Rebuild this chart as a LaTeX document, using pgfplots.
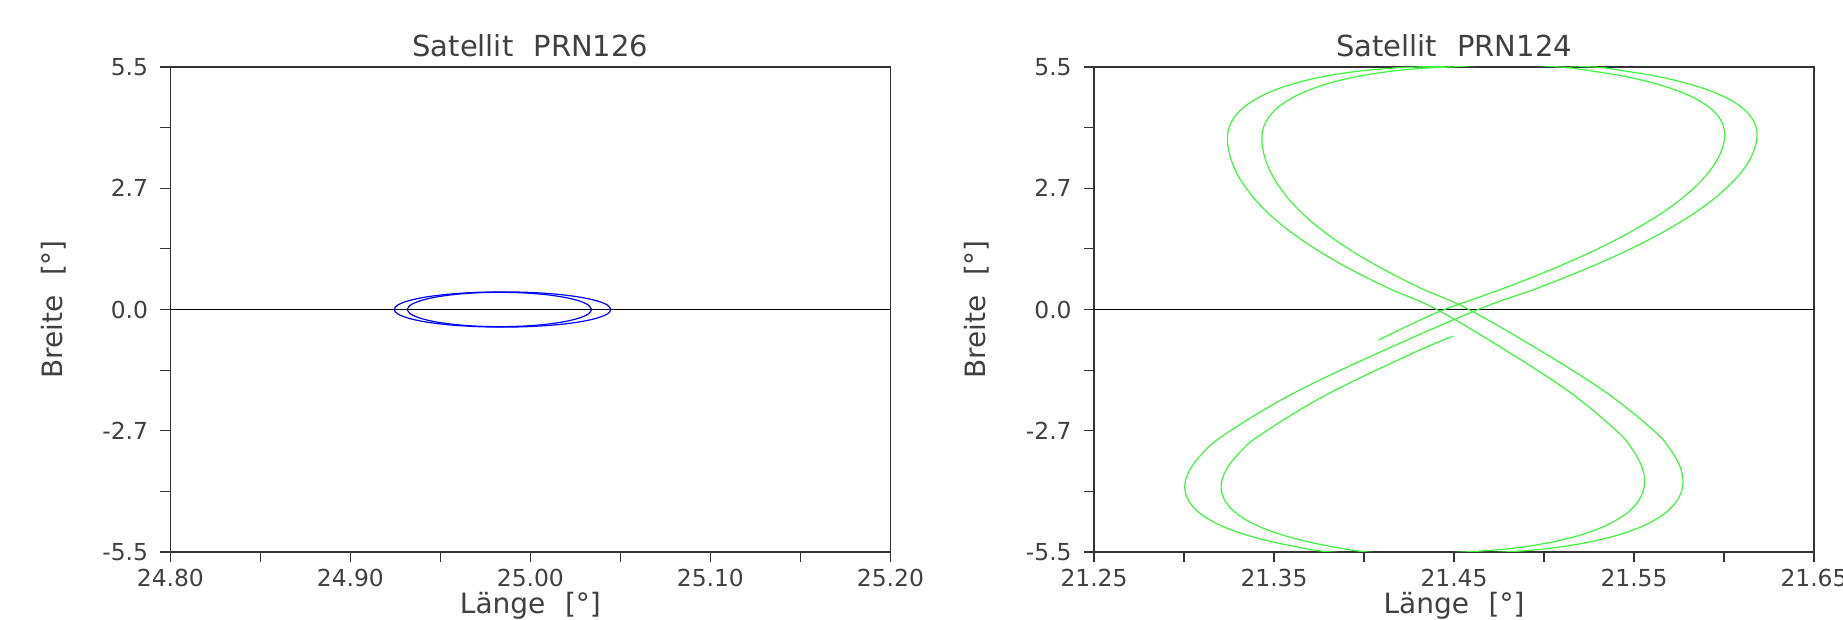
\documentclass[border=0pt]{standalone}
\usepackage{pgfplots}
\pgfplotsset{compat=1.18}
\usepackage{fontspec}
\setmainfont{DejaVu Sans}
\definecolor{txt}{gray}{0.25}
\definecolor{grn}{RGB}{60,245,60}
\definecolor{blu}{RGB}{0,0,255}
\pgfplotsset{
 satstyle/.style={
  scale only axis, width=360pt, height=242.5pt,
  anchor=south west,
  ymin=-5.5, ymax=5.5,
  ytick={-5.5,-2.75,0,2.75,5.5},
  yticklabels={-5.5,-2.7,0.0,2.7,5.5},
  minor ytick={-4.125,-1.375,1.375,4.125},
  tick align=outside, xtick pos=left, ytick pos=left,
  major tick length=5pt, minor tick length=5pt,
  every tick/.style={black!80, line width=0.6pt},
  axis line style={black!80, line width=0.8pt},
  ticklabel style={font=\fontsize{11.7}{13}\selectfont, text=txt},
  xticklabel style={anchor=base, yshift=-12.5pt},
  yticklabel style={anchor=east, inner sep=0pt, xshift=-6pt},
 }
}
\begin{document}
\begin{tikzpicture}
\useasboundingbox (0,0) rectangle (921.5pt,310pt);
\begin{axis}[satstyle, at={(85.2pt,34pt)},
  xmin=24.8, xmax=25.2,
  xtick={24.8,24.9,25.0,25.1,25.2},
  xticklabels={24.80,24.90,25.00,25.10,25.20},
  minor xtick={24.85,24.95,25.05,25.15}]
\addplot[black, line width=0.7pt] coordinates {(24.8,0) (25.2,0)};
\addplot[blu, line width=0.6pt, smooth] coordinates {
(25.0447,0) (25.0427,0.1035) (25.0366,0.2) (25.0271,0.2828) (25.0146,0.3464) (25.0001,0.3864) (24.9845,0.4) (24.9689,0.3864) (24.9544,0.3464) (24.9419,0.2828) (24.9324,0.2) (24.9264,0.1035) (24.9243,0) (24.9264,-0.1035) (24.9324,-0.2) (24.9419,-0.2828) (24.9544,-0.3464) (24.9689,-0.3864) (24.9845,-0.4) (25.0001,-0.3864) (25.0146,-0.3464) (25.0271,-0.2828) (25.0366,-0.2) (25.0427,-0.1035) (25.0447,0) (25.0427,0.1035)};
\addplot[blu, line width=0.6pt, smooth] coordinates {
(25.0339,0) (25.0322,0.1009) (25.0271,0.195) (25.0189,0.2758) (25.0084,0.3378) (24.9960,0.3767) (24.9828,0.39) (24.9696,0.3767) (24.9573,0.3378) (24.9467,0.2758) (24.9386,0.195) (24.9334,0.1009) (24.9317,0) (24.9334,-0.1009) (24.9386,-0.195) (24.9467,-0.2758) (24.9573,-0.3378) (24.9696,-0.3767) (24.9828,-0.39) (24.9960,-0.3767) (25.0084,-0.3378) (25.0189,-0.2758) (25.0271,-0.195) (25.0322,-0.1009) (25.0339,0) (25.0322,0.1009)};
\end{axis}
\begin{axis}[satstyle, at={(547pt,34pt)},
  xmin=21.25, xmax=21.65,
  xtick={21.25,21.35,21.45,21.55,21.65},
  xticklabels={21.25,21.35,21.45,21.55,21.65},
  minor xtick={21.30,21.40,21.50,21.60}]
\addplot[black, line width=0.7pt] coordinates {(21.25,0) (21.65,0)};
\addplot[grn, line width=0.6pt, smooth, tension=0.6] coordinates {
(21.4081,-0.694) (21.4258,-0.343) (21.4448,0) (21.4783,0.4905) (21.5081,0.9765) (21.5339,1.4558) (21.5551,1.9238) (21.5721,2.3771) (21.5848,2.8125) (21.5936,3.2265) (21.5987,3.6158) (21.6004,3.9774) (21.5980,4.3088) (21.5910,4.6080) (21.5796,4.8713) (21.5640,5.0979) (21.5448,5.2858) (21.5226,5.4332) (21.5087,5.5) (21.478,5.56)
(21.4483,5.5) (21.4383,5.4841) (21.4189,5.4213) (21.4007,5.3173) (21.3843,5.1730) (21.3702,4.9892) (21.3587,4.7673) (21.3502,4.5097) (21.3450,4.2168) (21.3433,3.8926) (21.3443,3.5386) (21.3476,3.1577) (21.3535,2.7525) (21.3621,2.3264) (21.3740,1.8827) (21.3895,1.4247) (21.4088,0.9557) (21.4318,0.4800) (21.4582,0)
(21.4989,-0.9581) (21.5347,-1.8875) (21.5613,-2.7595) (21.5700,-3.1657) (21.5754,-3.5476) (21.5772,-3.9025) (21.5754,-4.2276) (21.5700,-4.5212) (21.5613,-4.7795) (21.5494,-5.0019) (21.5347,-5.1862) (21.5177,-5.3308) (21.4989,-5.4351) (21.478,-5.5) (21.43,-5.58)
(21.3819,-5.5) (21.3586,-5.3507) (21.3385,-5.1605) (21.3222,-4.9310) (21.3102,-4.6645) (21.3029,-4.3616) (21.3004,-4.0262) (21.3029,-3.6601) (21.3102,-3.2661) (21.3222,-2.847) (21.3586,-1.9473) (21.4077,-0.9885) (21.4634,0)
(21.4968,0.4905) (21.5265,0.9765) (21.5522,1.4558) (21.5733,1.9238) (21.5902,2.3771) (21.6028,2.8125) (21.6117,3.2265) (21.6167,3.6158) (21.6184,3.9774) (21.6160,4.3088) (21.6091,4.6080) (21.5976,4.8713) (21.5821,5.0979) (21.5630,5.2858) (21.5409,5.4332) (21.5271,5.5) (21.479,5.58)
(21.4304,5.5) (21.4202,5.4861) (21.4006,5.4213) (21.3822,5.3173) (21.3656,5.1730) (21.3513,4.9910) (21.3397,4.7673) (21.3311,4.5113) (21.3259,4.2168) (21.3241,3.8926) (21.3252,3.5386) (21.3285,3.1588) (21.3345,2.7525) (21.3432,2.3273) (21.3553,1.8827) (21.3710,1.4252) (21.3905,0.9557) (21.4137,0.4802) (21.4404,0)
(21.4799,-0.9567) (21.5146,-1.8848) (21.5404,-2.7555) (21.5489,-3.1611) (21.5541,-3.5425) (21.5559,-3.8968) (21.5541,-4.2214) (21.5489,-4.5146) (21.5404,-4.7726) (21.5289,-4.9946) (21.5146,-5.1786) (21.4982,-5.3231) (21.4799,-5.4273) (21.4605,-5.4901) (21.455,-5.5) (21.428,-5.55)
(21.4016,-5.5) (21.3785,-5.3507) (21.3585,-5.1605) (21.3423,-4.9310) (21.3304,-4.6645) (21.3231,-4.3616) (21.3206,-4.0262) (21.3231,-3.6601) (21.3304,-3.2661) (21.3423,-2.847) (21.3785,-1.9473) (21.4272,-0.9885) (21.4495,-0.604)};
\end{axis}
\node[anchor=base, font=\fontsize{14.5}{17}\selectfont, text=txt] at (265.2pt,281.8pt) {Satellit\hspace{0.7em}PRN126};
\node[anchor=base, font=\fontsize{14.5}{17}\selectfont, text=txt] at (727pt,281.8pt) {Satellit\hspace{0.7em}PRN124};
\node[anchor=base, font=\fontsize{14}{17}\selectfont, text=txt] at (265.2pt,3.2pt) {Länge\hspace{0.7em}[°]};
\node[anchor=base, font=\fontsize{14}{17}\selectfont, text=txt] at (727pt,3.2pt) {Länge\hspace{0.7em}[°]};
\node[anchor=base, rotate=90, font=\fontsize{14}{17}\selectfont, text=txt] at (31pt,155.25pt) {Breite\hspace{0.7em}[°]};
\node[anchor=base, rotate=90, font=\fontsize{14}{17}\selectfont, text=txt] at (492.8pt,155.25pt) {Breite\hspace{0.7em}[°]};
\end{tikzpicture}
\end{document}
